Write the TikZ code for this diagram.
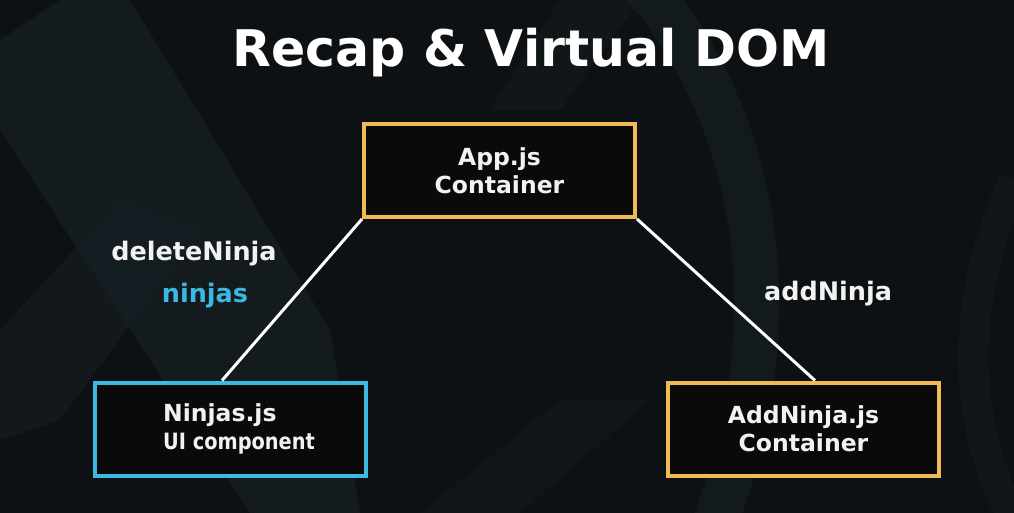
\documentclass[tikz,border=0pt]{standalone}
\usepackage{fontspec}
\usepackage{graphicx}
\setmainfont{DejaVu Sans}
\definecolor{bg}{HTML}{0E1113}
\definecolor{bgshape}{HTML}{162024}
\definecolor{boxorange}{HTML}{F2BA52}
\definecolor{boxcyan}{HTML}{3BB9E2}
\definecolor{txt}{HTML}{F2F2F2}
\definecolor{boxfill}{HTML}{0A0A0A}
\tikzset{
  nodebox/.style={draw, line width=4pt, fill=boxfill, minimum width=271pt, minimum height=93pt, inner sep=0pt, align=center, text=txt, font=\bfseries\fontsize{23.5}{28}\selectfont},
  orangebox/.style={nodebox, draw=boxorange},
  cyanbox/.style={nodebox, draw=boxcyan},
  link/.style={draw=white, line width=3pt},
  lbl/.style={text=txt, font=\bfseries\fontsize{25.5}{28}\selectfont, inner sep=0pt}
}
\begin{document}
\begin{tikzpicture}[x=1pt,y=-1pt]
\useasboundingbox (0,0) rectangle (1014,513);
\fill[bg] (0,0) rectangle (1014,513);
% faint background shapes
\fill[bgshape, opacity=0.7] (0,40) -- (60,0) -- (130,0) -- (330,330) -- (360,513) -- (250,513) -- (0,130) -- cycle;
\fill[bgshape, opacity=0.5] (0,330) -- (120,200) -- (200,230) -- (60,420) -- (0,440) -- cycle;
\fill[bgshape, opacity=0.4] (560,0) -- (640,0) -- (560,110) -- (490,110) -- cycle;
\draw[bgshape, line width=45pt, opacity=0.6] (640,-20) .. controls (760,120) and (800,330) .. (700,560);
\draw[bgshape, line width=30pt, opacity=0.4] (1014,180) .. controls (960,300) and (960,420) .. (1014,520);
\fill[bgshape, opacity=0.35] (420,513) -- (560,400) -- (650,400) -- (520,513) -- cycle;

\node[font=\bfseries\fontsize{50.5}{55}\selectfont, text=white, inner sep=0pt, anchor=base] (title) at (531,67) {Recap \& Virtual DOM};

\node[orangebox] (app) at (499.5,170.5) {App.js\\Container};
\node[cyanbox] (ninjas) at (230,429) {};
\node[text=txt, align=left, anchor=west, inner sep=0pt, font=\bfseries\fontsize{23.5}{28}\selectfont] (ninjastext) at (163,429) {Ninjas.js\\{\fontsize{22.5}{28}\selectfont\scalebox{0.86}[1]{UI component}}};
\node[orangebox] (add) at (803.5,429) {AddNinja.js\\Container};

\draw[link] (app.south west) -- (ninjas.north -| 222,0);
\draw[link] (app.south east) -- (add.north -| 815,0);

\node[lbl, anchor=base] (del) at (194,260) {deleteNinja};
\node[lbl, anchor=base, text=boxcyan] (nin) at (205,302) {ninjas};
\node[lbl, anchor=base] (addl) at (828,300) {addNinja};
\end{tikzpicture}
\end{document}
